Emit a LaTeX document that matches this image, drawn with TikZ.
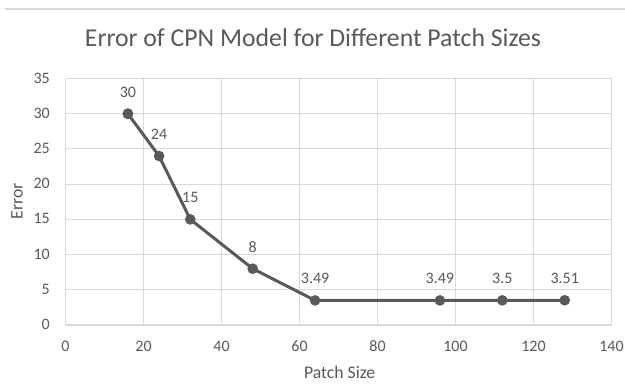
\documentclass[tikz,border=0pt]{standalone}
\usepackage{fontspec}
\setmainfont{Carlito}
\definecolor{txt}{HTML}{595959}
\definecolor{grid}{HTML}{D9D9D9}
\definecolor{ser}{HTML}{595959}
\begin{document}
\begin{tikzpicture}[x=0.75pt,y=0.75pt,
  ticklab/.style={font=\fontsize{12}{14}\selectfont, text=txt, inner sep=0pt},
  datalab/.style={font=\fontsize{12}{14}\selectfont, text=txt, inner sep=0pt, anchor=base},
  axtitle/.style={font=\fontsize{13.3}{16}\selectfont, text=txt, inner sep=0pt, anchor=base},
  dot/.style={circle, fill=ser, draw=none, minimum size=8pt, inner sep=0pt},
  gridline/.style={draw=grid, line width=0.75pt}]
\useasboundingbox (0,0) rectangle (625,385);
\fill[white] (0,0) rectangle (625,385);
% top separator
\draw[draw=grid, line width=1.2pt] (5,376) -- (625,376);
% title
\node[font=\fontsize{19.3}{23}\selectfont, text=txt, anchor=base, inner sep=0pt] (title) at (313,338.3) {Error of CPN Model for Different Patch Sizes};
\begin{scope}[shift={(65.5,60)}, x=2.925pt, y=5.28pt]
  % grid
  \foreach \v in {5,10,...,35} \draw[gridline] (0,\v) -- (140,\v);
  \foreach \u in {20,40,...,140} \draw[gridline] (\u,0) -- (\u,35);
  \draw[gridline] (0,0) -- (0,35);
  \draw[draw=grid, line width=1pt] (0,0) -- (140,0);
  % tick labels
  \foreach \v in {0,5,...,35} \node[ticklab, anchor=base east] (yl\v) at (-3.97,\v-0.63) {\v};
  \foreach \u in {0,20,...,140} \node[ticklab, anchor=base] (xl\u) at (\u,-3.79) {\u};
  % axis titles
  \node[axtitle] (xt) at (70.3,-7.57) {Patch Size};
  \node[axtitle, rotate=90] (yt) at (-10.97,17.54) {Error};
  % data
  \node[dot] (p1) at (16,30) {};
  \node[dot] (p2) at (24,24) {};
  \node[dot] (p3) at (32,15) {};
  \node[dot] (p4) at (48,8) {};
  \node[dot] (p5) at (64,3.49) {};
  \node[dot] (p6) at (96,3.49) {};
  \node[dot] (p7) at (112,3.5) {};
  \node[dot] (p8) at (128,3.51) {};
  \draw[ser, line width=2.25pt, line join=round] (p1.center) -- (p2.center) -- (p3.center) -- (p4.center) -- (p5.center) -- (p6.center) -- (p7.center) -- (p8.center);
  \foreach \p in {p1,...,p8} \fill[ser] (\p) circle (4pt);
  % data labels
  \node[datalab] (l1) at ([yshift=12.5pt]p1.center) {30};
  \node[datalab] (l2) at ([yshift=12.5pt]p2.center) {24};
  \node[datalab] (l3) at ([yshift=12.5pt]p3.center) {15};
  \node[datalab] (l4) at ([yshift=12.5pt]p4.center) {8};
  \node[datalab] (l5) at ([yshift=12.5pt]p5.center) {3.49};
  \node[datalab] (l6) at ([yshift=12.5pt]p6.center) {3.49};
  \node[datalab] (l7) at ([yshift=12.5pt]p7.center) {3.5};
  \node[datalab] (l8) at ([yshift=12.5pt]p8.center) {3.51};
\end{scope}
\end{tikzpicture}
\end{document}
